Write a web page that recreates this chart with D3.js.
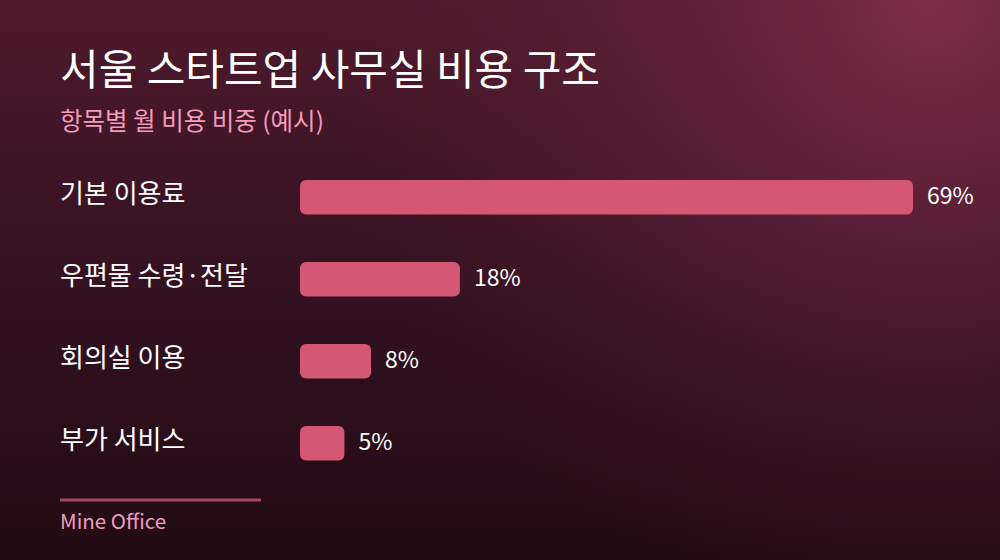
<!DOCTYPE html>
<html><head><meta charset="utf-8">
<script src="https://cdn.jsdelivr.net/npm/d3@7"></script>
<style>html,body{margin:0;padding:0;background:#2a0e18;}svg{display:block;}</style>
</head><body>
<svg id="c" width="1000" height="560"></svg>
<script>
const categories = ["기본 이용료", "우편물 수령·전달", "회의실 이용", "부가 서비스"];
const values = [69, 18, 8, 5];
const valueLabels = ["69%", "18%", "8%", "5%"];
const title = "서울 스타트업 사무실 비용 구조";
const subtitle = "항목별 월 비용 비중 (예시)";
const source = "Mine Office";

const svg = d3.select("#c");
const W = 1000, H = 560;
const font = "'Noto Sans CJK KR', 'Noto Sans', sans-serif";
const defs = svg.append("defs");
const lg = defs.append("linearGradient").attr("id","bgl").attr("x1",0).attr("y1",0).attr("x2",0).attr("y2",1);
lg.append("stop").attr("offset","0%").attr("stop-color","#4e1a2c");
lg.append("stop").attr("offset","55%").attr("stop-color","#321120");
lg.append("stop").attr("offset","100%").attr("stop-color","#220b13");
const rg = defs.append("radialGradient").attr("id","bgr")
  .attr("gradientUnits","userSpaceOnUse").attr("cx",930).attr("cy",0).attr("r",620);
rg.append("stop").attr("offset","0%").attr("stop-color","#7e2d47").attr("stop-opacity",1);
rg.append("stop").attr("offset","40%").attr("stop-color","#6a2540").attr("stop-opacity",0.6);
rg.append("stop").attr("offset","100%").attr("stop-color","#4e1a2c").attr("stop-opacity",0);
svg.append("rect").attr("width",W).attr("height",H).attr("fill","url(#bgl)");
svg.append("rect").attr("width",W).attr("height",H).attr("fill","url(#bgr)");

svg.append("text").attr("x",60).attr("y",85).attr("fill","#ffffff")
  .attr("font-family",font).attr("font-size",42).attr("font-weight",400).text(title);
svg.append("text").attr("x",60).attr("y",130).attr("fill","#f29bbd")
  .attr("font-family",font).attr("font-size",24.5).text(subtitle);

const x = d3.scaleLinear().domain([0, d3.max(values)]).range([300, 913]);
const y = d3.scaleBand().domain(categories).range([156, 484.4]).paddingInner(0.58).paddingOuter(0.2927);
const bh = y.bandwidth();
const cy = c => y(c) + bh/2;

const g = svg.append("g");
categories.forEach((c,i) => {
  g.append("text").attr("x",60).attr("y",cy(c)-3).attr("dy","0.35em").attr("fill","#ffffff")
    .attr("font-family",font).attr("font-size",26).text(c);
  g.append("rect").attr("x",x(0)).attr("y",y(c)).attr("width",x(values[i])-x(0)).attr("height",bh)
    .attr("rx",6).attr("fill","#d45874");
  g.append("text").attr("x",x(values[i])+14).attr("y",cy(c)-1).attr("dy","0.35em").attr("fill","#ffffff")
    .attr("font-family",font).attr("font-size",23).text(valueLabels[i]);
});

svg.append("line").attr("x1",60).attr("x2",261).attr("y1",500).attr("y2",500)
  .attr("stroke","#a8445f").attr("stroke-width",3);
svg.append("text").attr("x",60).attr("y",529).attr("fill","#f29bbd")
  .attr("font-family",font).attr("font-size",20.5).text(source);
</script>
</body></html>
